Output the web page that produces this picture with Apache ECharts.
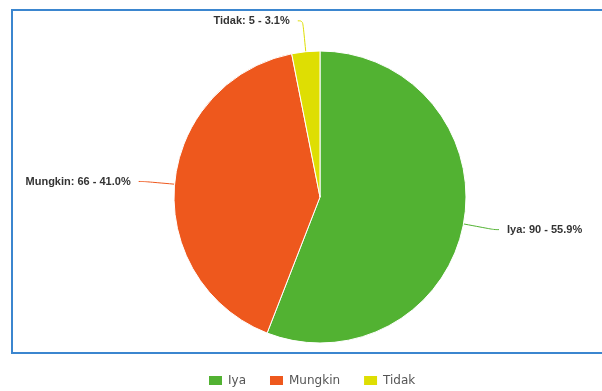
<!DOCTYPE html>
<html>
<head>
<meta charset="utf-8">
<script src="https://cdn.jsdelivr.net/npm/echarts@6/dist/echarts.min.js"></script>
<style>
  html, body { margin: 0; padding: 0; background: #fff; }
  #chart { width: 602px; height: 391px; }
</style>
</head>
<body>
<div id="chart"></div>
<script>
// Survey answers and their counts
const categories = ['Iya', 'Mungkin', 'Tidak'];
const counts = [90, 66, 5];
const colors = ['#52b232', '#ee581d', '#dede03'];

const total = counts.reduce((a, b) => a + b, 0);
const pieData = categories.map((name, i) => ({
  name: name,
  value: counts[i],
  itemStyle: { color: colors[i] },
  labelLine: { lineStyle: { color: colors[i] } }
}));

const chart = echarts.init(document.getElementById('chart'), null, { renderer: 'canvas' });
chart.setOption({
  animation: false,
  graphic: [{
    type: 'rect',
    shape: { x: 12, y: 10, width: 620, height: 343 },
    style: { fill: 'none', stroke: '#3b86cf', lineWidth: 2 },
    z: -1
  }],
  legend: {
    top: 374,
    left: 207,
    padding: 0,
    itemWidth: 15,
    itemHeight: 11,
    itemGap: 22,
    icon: 'rect',
    textStyle: { fontFamily: 'DejaVu Sans', fontSize: 12, color: '#555' },
    data: categories
  },
  series: [{
    type: 'pie',
    center: [320, 197],
    radius: 146,
    startAngle: 90,
    clockwise: true,
    avoidLabelOverlap: false,
    itemStyle: { borderColor: '#fff', borderWidth: 1 },
    label: {
      show: true,
      fontFamily: 'Liberation Sans',
      fontWeight: 'bold',
      fontSize: 11,
      color: '#333',
      padding: [8, 0, 0, 0],
      distanceToLabelLine: 8,
      formatter: p => `${p.name}: ${p.value} - ${(p.value / total * 100).toFixed(1)}%`
    },
    labelLine: { show: true, length: 31, length2: 5, smooth: 0.4, lineStyle: { width: 1 } },
    emphasis: { disabled: true },
    data: pieData
  }]
});
</script>
</body>
</html>
